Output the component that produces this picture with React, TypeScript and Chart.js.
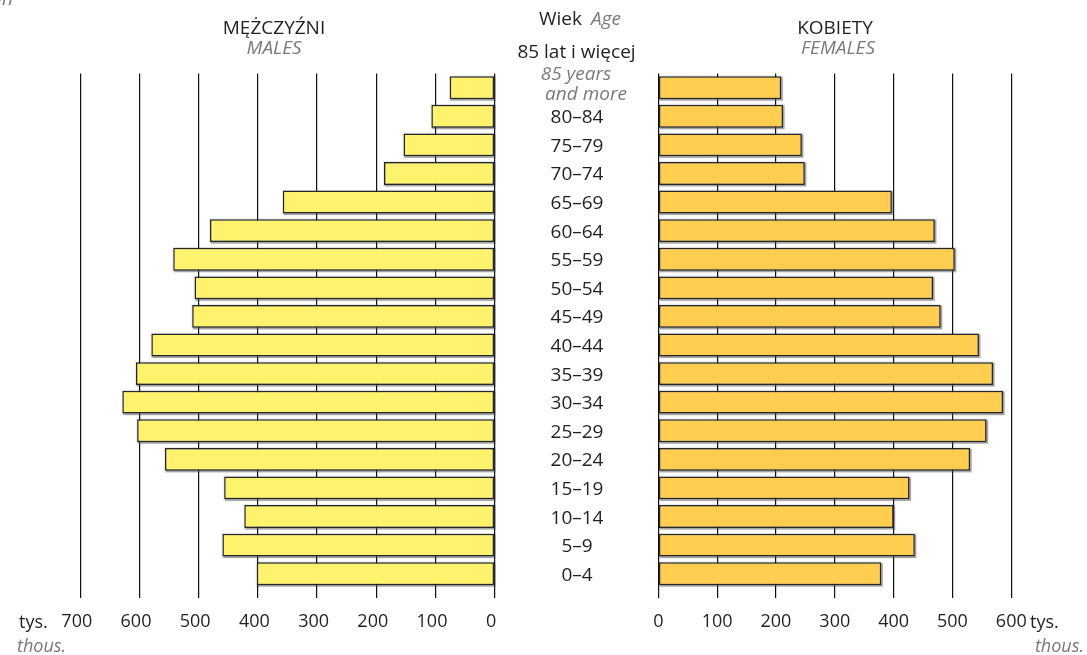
import React, { useEffect, useRef } from "react";
import { Chart, registerables } from "chart.js";

Chart.register(...registerables);

const ageGroups = ["85+", "80–84", "75–79", "70–74", "65–69", "60–64", "55–59", "50–54", "45–49", "40–44", "35–39", "30–34", "25–29", "20–24", "15–19", "10–14", "5–9", "0–4"];
const ageLabelsPL = ["85 lat i więcej", "80–84", "75–79", "70–74", "65–69", "60–64", "55–59", "50–54", "45–49", "40–44", "35–39", "30–34", "25–29", "20–24", "15–19", "10–14", "5–9", "0–4"];
const oldestLabelEN = ["85 years", "and more"];
const males = [76, 107, 154, 187, 358, 481, 543, 507, 511, 580, 606, 629, 604, 557, 457, 423, 460, 402];
const females = [209, 212, 244, 249, 397, 470, 504, 467, 480, 545, 569, 586, 558, 530, 427, 400, 436, 379];
const maleTicksMax = 700;
const femaleTicksMax = 600;

const FONT = '"Open Sans", "DejaVu Sans", sans-serif';
const DARK = "#231f20";
const GREY = "#7a7a7a";

const shadowPlugin = {
  id: "barShadow",
  beforeDatasetsDraw(chart: any) {
    const ctx = chart.ctx;
    ctx.save();
    chart.getSortedVisibleDatasetMetas().forEach((meta: any) => {
      meta.data.forEach((el: any) => {
        const p = el.getProps(["x", "y", "base", "height"], true);
        const l = Math.min(p.x, p.base);
        const r = Math.max(p.x, p.base);
        const t = p.y - p.height / 2;
        ctx.fillStyle = "rgba(0,0,0,0.08)";
        ctx.fillRect(l - 1, t - 1, r - l + 3, p.height + 3);
        ctx.fillStyle = "rgba(80,80,80,0.45)";
        ctx.fillRect(l + 1, t + 1, r - l + 0.5, p.height + 0.5);
      });
    });
    ctx.restore();
  },
};

function txt(ctx: any, s: string, x: number, y: number, opts: { italic?: boolean; color?: string; size?: number; align?: string }) {
  ctx.font = `${opts.italic ? "italic " : ""}${opts.size || 19}px ${FONT}`;
  ctx.fillStyle = opts.color || DARK;
  ctx.textAlign = opts.align || "center";
  ctx.textBaseline = "alphabetic";
  ctx.fillText(s, x, y);
}

const leftTextPlugin = {
  id: "leftText",
  afterDraw(chart: any) {
    const ctx = chart.ctx;
    const y = chart.scales.y;
    ctx.save();
    txt(ctx, "an", 13, 4.5, { italic: true, color: GREY, align: "right" });
    txt(ctx, "MĘŻCZYŹNI", 274, 33.5, {});
    txt(ctx, "MALES", 274, 53.5, { italic: true, color: GREY });
    txt(ctx, "Wiek", 539, 25, { align: "left" });
    txt(ctx, "Age", 591, 25, { italic: true, color: GREY, align: "left" });
    ageLabelsPL.forEach((lab, i) => {
      const c = y.getPixelForValue(i);
      if (i === 0) {
        txt(ctx, lab, 576.5, c - 29.4, {});
        txt(ctx, oldestLabelEN[0], 576, c - 7.7, { italic: true, color: GREY });
        txt(ctx, oldestLabelEN[1], 586, c + 12.3, { italic: true, color: GREY });
      } else {
        txt(ctx, lab, 577, c + 7, {});
      }
    });
    txt(ctx, "tys.", 19, 627.7, { size: 18, align: "left" });
    txt(ctx, "thous.", 17, 652, { size: 18, italic: true, color: GREY, align: "left" });
    ctx.restore();
  },
};

const rightTextPlugin = {
  id: "rightText",
  afterDraw(chart: any) {
    const ctx = chart.ctx;
    ctx.save();
    const ox = 640;
    txt(ctx, "KOBIETY", 835 - ox, 33.5, {});
    txt(ctx, "FEMALES", 838 - ox, 53.5, { italic: true, color: GREY });
    txt(ctx, "tys.", 1030 - ox, 627.7, { size: 18, align: "left" });
    txt(ctx, "thous.", 1084 - ox, 652, { size: 18, italic: true, color: GREY, align: "right" });
    ctx.restore();
  },
};

function xScale(max: number, reverse: boolean, labelOffset: number) {
  return {
    reverse,
    min: 0,
    max,
    ticks: {
      stepSize: 100,
      autoSkip: false,
      maxRotation: 0,
      padding: 13,
      labelOffset,
      color: DARK,
      font: { family: FONT, size: 18 },
    },
    grid: { color: "#111111", lineWidth: 1.2, tickLength: 10, drawTicks: true },
    border: { display: false },
    afterFit: (s: any) => {
      s.height = 50;
    },
  };
}

function makeConfig(values: number[], color: string, max: number, reverse: boolean, labelOffset: number, padding: any, textPlugin: any) {
  return {
    type: "bar" as const,
    data: {
      labels: ageGroups,
      datasets: [
        {
          data: values,
          backgroundColor: color,
          borderColor: "#262626",
          borderWidth: 1.5,
          borderSkipped: false,
          barPercentage: 0.8,
          categoryPercentage: 1,
        },
      ],
    },
    options: {
      indexAxis: "y" as const,
      animation: false as const,
      responsive: false,
      maintainAspectRatio: false,
      layout: { padding },
      plugins: { legend: { display: false }, tooltip: { enabled: false } },
      scales: {
        x: xScale(max, reverse, labelOffset),
        y: { display: false },
      },
    },
    plugins: [shadowPlugin, textPlugin],
  };
}

export default function App() {
  const leftRef = useRef<HTMLCanvasElement>(null);
  const rightRef = useRef<HTMLCanvasElement>(null);

  useEffect(() => {
    const left = new Chart(
      leftRef.current as HTMLCanvasElement,
      makeConfig(males, "#FFF36E", maleTicksMax, true, -3.5, { left: 80.3, right: 660 - 494.7, top: 73.4, bottom: 17 }, leftTextPlugin) as any
    );
    const right = new Chart(
      rightRef.current as HTMLCanvasElement,
      makeConfig(females, "#FFCD4F", femaleTicksMax, false, 0, { left: 658.3 - 640, right: 1087 - 1011.3, top: 73.4, bottom: 17 }, rightTextPlugin) as any
    );
    return () => {
      left.destroy();
      right.destroy();
    };
  }, []);

  return (
    <div style={{ position: "absolute", left: 0, top: 0, width: 1087, height: 655, background: "#fff", overflow: "hidden" }}>
      <canvas ref={leftRef} width={660} height={655} style={{ position: "absolute", left: 0, top: 0 }} />
      <canvas ref={rightRef} width={447} height={655} style={{ position: "absolute", left: 640, top: 0 }} />
    </div>
  );
}
